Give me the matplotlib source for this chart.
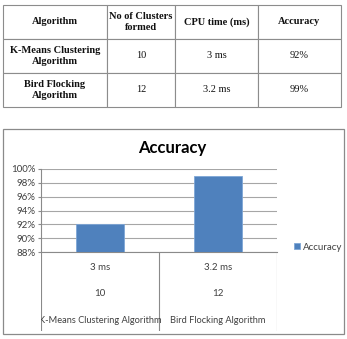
import matplotlib
matplotlib.use("Agg")
import matplotlib.pyplot as plt
from matplotlib.patches import Rectangle
from matplotlib.ticker import PercentFormatter

# %% data
algorithms = ["K-Means Clustering Algorithm", "Bird Flocking Algorithm"]
table_names = ["K-Means Clustering\nAlgorithm", "Bird Flocking\nAlgorithm"]
clusters = [10, 12]
cpu_time = ["3 ms", "3.2 ms"]
accuracy = [92, 99]
headers = ["Algorithm", "No of Clusters\nformed", "CPU time (ms)", "Accuracy"]
yticks = [88, 90, 92, 94, 96, 98, 100]

W, H = 347, 339
fig = plt.figure(figsize=(W / 100, H / 100), dpi=100)

def box(x0, y0, x1, y1):
    # pixel box (top-left origin) -> figure fraction rect
    return [x0 / W, 1 - y1 / H, (x1 - x0) / W, (y1 - y0) / H]

# %% table at the top
tax = fig.add_axes(box(3, 5, 341, 107))
tax.axis("off")
cells = [[table_names[i], str(clusters[i]), cpu_time[i], f"{accuracy[i]}%"] for i in range(len(algorithms))]
tbl = tax.table(cellText=cells, colLabels=headers, bbox=[0, 0, 1, 1],
                colWidths=[104, 68, 83, 83], cellLoc="center")
tbl.auto_set_font_size(False)
for (r, c), cell in tbl.get_celld().items():
    cell.set_edgecolor("#8c8c8c")
    cell.set_linewidth(0.8)
    txt = cell.get_text()
    txt.set_fontfamily("Liberation Serif")
    txt.set_fontsize(7.5)
    txt.set_color("#111111")
    if r == 0 or c == 0:
        txt.set_fontweight("bold")

# %% chart frame
frame = Rectangle((3 / W, 1 - 334 / H), 341 / W, 205 / H, transform=fig.transFigure,
                  fill=False, edgecolor="#8a8a8a", linewidth=0.9)
fig.patches.append(frame)

fig.text(172 / W, 1 - 148 / H, "Accuracy", family="Lato", fontweight="bold",
         fontsize=12, ha="center", va="center", color="#000000")

# %% bar plot
ax = fig.add_axes(box(41, 169, 277, 252))
x = list(range(len(accuracy)))
ax.bar(x, accuracy, width=0.4, color="#4f81bd", edgecolor="#7ea6d6", linewidth=0.6,
       label="Accuracy", zorder=3)
ax.set_xlim(-0.5, 1.5)
ax.set_ylim(88, 100)
ax.set_yticks(yticks)
ax.yaxis.set_major_formatter(PercentFormatter(decimals=0))
ax.grid(axis="y", color="#a6a6a6", linewidth=0.8, zorder=0)
ax.set_xticks([])
for s in ["top", "right"]:
    ax.spines[s].set_visible(False)
ax.spines["left"].set_color("#8a8a8a")
ax.spines["bottom"].set_color("#8a8a8a")
ax.spines["left"].set_linewidth(0.8)
ax.spines["bottom"].set_linewidth(0.8)
ax.tick_params(axis="y", length=2.5, width=0.8, color="#8a8a8a", pad=1.5,
               labelsize=7, labelcolor="#404040")
for lab in ax.get_yticklabels():
    lab.set_family("Lato")

# %% multi level category axis
cax = fig.add_axes(box(41, 252, 277, 331))
cax.set_xlim(-0.5, 1.5)
cax.set_ylim(0, 1)
cax.axis("off")
for xv in [-0.5, 0.5, 1.5]:
    cax.axvline(xv, color="#8a8a8a", linewidth=0.8)
for i in x:
    cax.text(i, 0.8, cpu_time[i], ha="center", va="center", fontsize=7,
             family="Lato", color="#404040")
    cax.text(i, 0.47, str(clusters[i]), ha="center", va="center", fontsize=7,
             family="Lato", color="#404040")
    cax.text(i, 0.13, algorithms[i], ha="center", va="center", fontsize=6.7,
             family="Lato", color="#404040", clip_on=True)

fig.legend(loc="center left", bbox_to_anchor=(285 / W, 1 - 247 / H), frameon=False,
           prop={"family": "Lato", "size": 7}, handlelength=0.6, handleheight=0.6,
           handletextpad=0.3, labelcolor="#404040")

fig.savefig("out.png", dpi=100)
